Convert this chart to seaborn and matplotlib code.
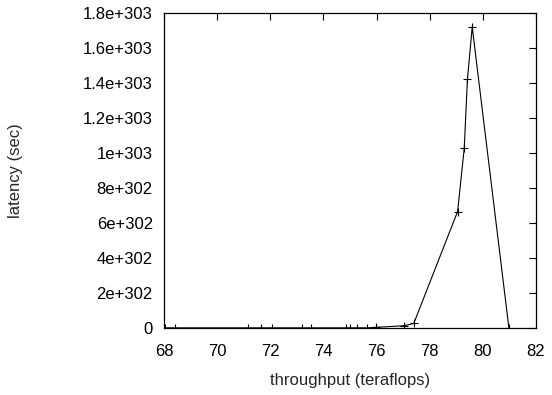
import numpy as np
import pandas as pd
import seaborn as sns
import matplotlib
matplotlib.use("Agg")
import matplotlib.pyplot as plt
from matplotlib.ticker import FuncFormatter

# throughput (teraflops) vs latency (sec)
throughput = [68.05, 68.42, 71.17, 71.66, 72.05, 73.18, 73.55, 74.85, 75.0,
              75.27, 75.65, 75.98, 77.03, 77.4, 79.05, 79.3, 79.42, 79.6, 80.98]
latency = [0, 0, 0, 0, 0, 0, 0, 0, 0,
           0, 0, 0.03e302, 0.12e302, 0.25e302, 6.65e302, 10.27e302, 14.21e302, 17.2e302, 0]

x_ticks = [68, 70, 72, 74, 76, 78, 80, 82]
y_ticks = [0, 2e302, 4e302, 6e302, 8e302, 1e303, 1.2e303, 1.4e303, 1.6e303, 1.8e303]

sns.set_style("white")
plt.rcParams["font.family"] = ["Liberation Sans", "DejaVu Sans"]

df = pd.DataFrame({"throughput": throughput, "latency": latency})

fig = plt.figure(figsize=(5.52, 3.95), dpi=100)
ax = fig.add_axes([0.297, 0.170, 0.674, 0.797])

sns.lineplot(data=df, x="throughput", y="latency", ax=ax, sort=False, estimator=None,
             color="black", linewidth=0.8, marker="+", markersize=5.5,
             markeredgewidth=0.8, markeredgecolor="black")

ax.set_xlim(68, 82)
ax.set_ylim(0, 1.8e303)
ax.set_xticks(x_ticks)
ax.set_yticks(y_ticks)
ax.yaxis.set_major_formatter(FuncFormatter(lambda v, p: "%g" % v))
ax.xaxis.set_major_formatter(FuncFormatter(lambda v, p: "%g" % v))

ax.tick_params(direction="in", length=5, width=0.8, color="black",
               top=True, right=True, labelsize=12, labelcolor="black")
ax.tick_params(axis="y", pad=8)
ax.tick_params(axis="x", pad=11.5)
for s in ax.spines.values():
    s.set_color("black")
    s.set_linewidth(0.9)

ax.set_xlabel("throughput (teraflops)", fontsize=12, labelpad=10)
ax.set_ylabel("latency (sec)", fontsize=12, labelpad=43)

fig.savefig("out.png", dpi=100)
